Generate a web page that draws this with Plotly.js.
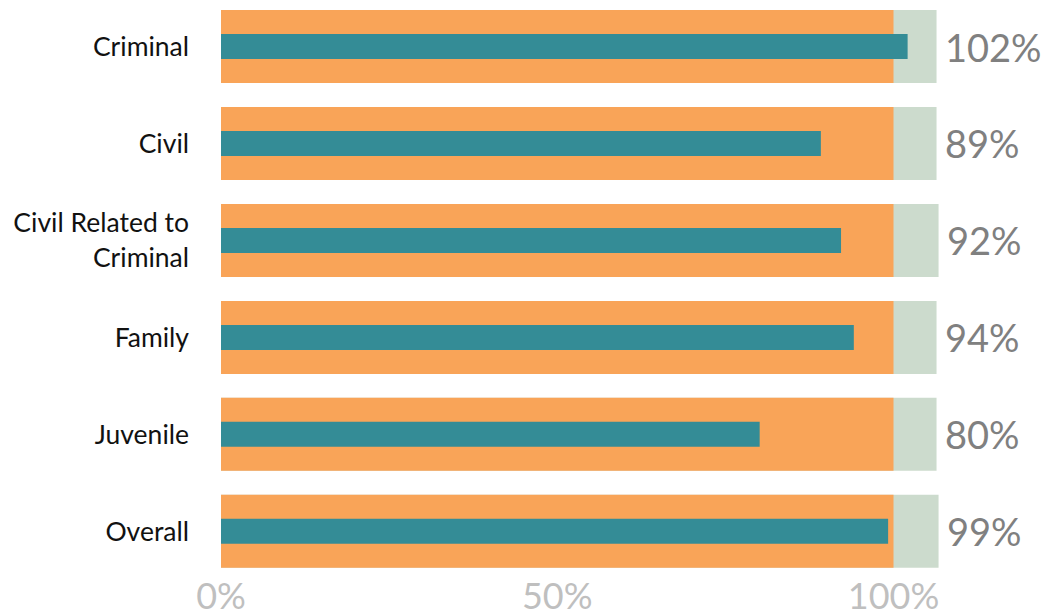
<!DOCTYPE html>
<html>
<head>
<meta charset="utf-8">
<script src="https://cdn.plot.ly/plotly-3.0.1.min.js"></script>
<style>
html,body{margin:0;padding:0;background:#fff;}
#chart{width:1060px;height:616px;}
</style>
</head>
<body>
<div id="chart"></div>
<script>
var categories = ["Criminal", "Civil", "Civil Related to<br>Criminal", "Family", "Juvenile", "Overall"];
var actual = [102.1, 89.2, 92.2, 94.1, 80.1, 99.2];
var valueLabels = ["102%", "89%", "92%", "94%", "80%", "99%"];
var target = [100, 100, 100, 100, 100, 100];
var upperBand = [106.4, 106.4, 106.7, 106.4, 106.4, 106.7];
var xTickVals = [0, 50, 100];
var xTickText = ["0%", "50%", "100%"];

var traces = [
  {type: 'bar', orientation: 'h', y: categories, x: upperBand, width: 0.753,
   marker: {color: '#CCDBCD'}, hoverinfo: 'skip', showlegend: false},
  {type: 'bar', orientation: 'h', y: categories, x: target, width: 0.753,
   marker: {color: '#F9A458'}, hoverinfo: 'skip', showlegend: false},
  {type: 'bar', orientation: 'h', y: categories, x: actual, width: 0.258,
   marker: {color: '#348C96'}, hoverinfo: 'skip', showlegend: false}
];

var annotations = categories.map(function (c, i) {
  return {x: upperBand[i], y: c, xref: 'x', yref: 'y', text: valueLabels[i],
    showarrow: false, xanchor: 'left', xshift: 6,
    font: {family: 'Lato, sans-serif', size: 38, color: '#808080'}};
});

var layout = {
  width: 1060, height: 616,
  margin: {l: 221, r: 32, t: 0, b: 36, pad: 0},
  paper_bgcolor: '#ffffff', plot_bgcolor: '#ffffff',
  barmode: 'overlay',
  showlegend: false,
  xaxis: {range: [0, 120], tickvals: xTickVals, ticktext: xTickText,
    showgrid: false, zeroline: false, showline: false, ticks: '',
    ticklabelstandoff: -8,
    tickfont: {family: 'Lato, sans-serif', size: 36, color: '#BFBFBF'}},
  yaxis: {type: 'category', range: [5.502, -0.4796], showgrid: false, zeroline: false,
    showline: false, ticks: '', ticklabelstandoff: 31,
    tickfont: {family: 'Lato, sans-serif', size: 26.5, color: '#111111'}},
  annotations: annotations
};

Plotly.newPlot('chart', traces, layout, {displayModeBar: false, staticPlot: true});
</script>
</body>
</html>
